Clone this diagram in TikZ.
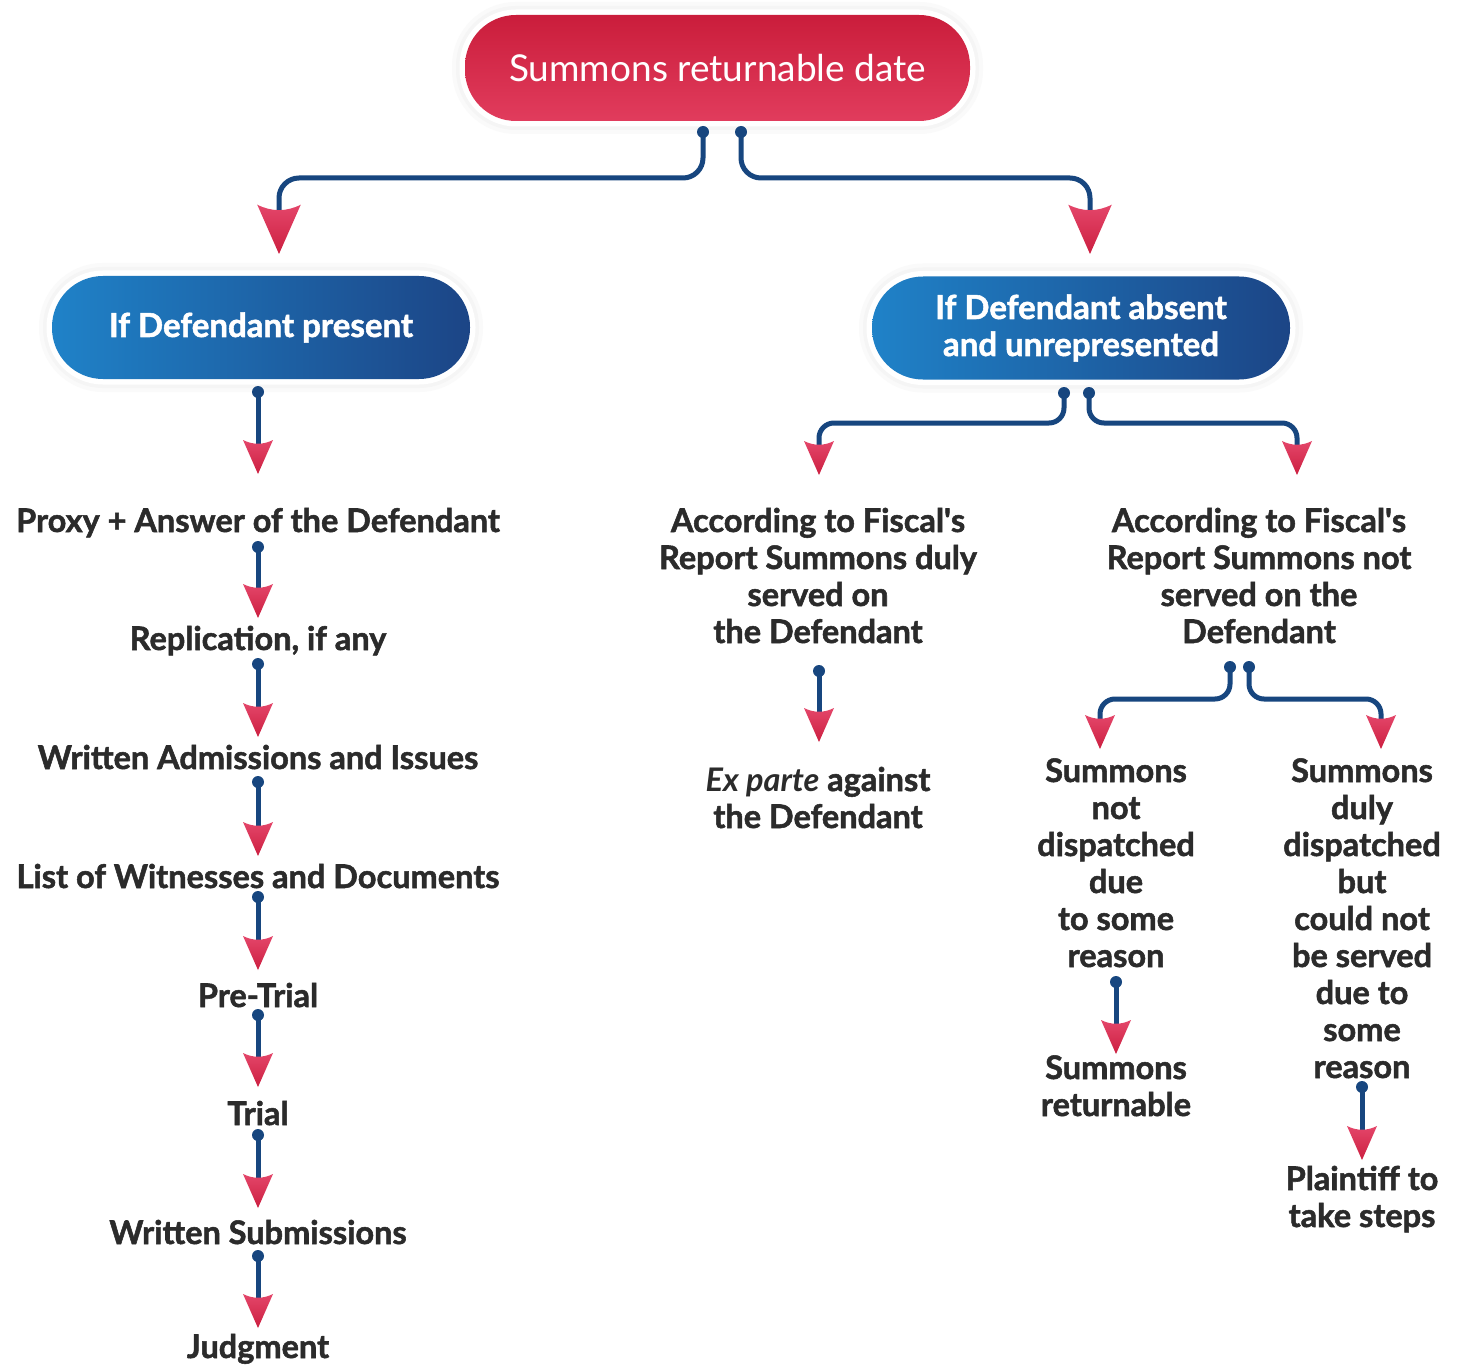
\documentclass[tikz,border=0pt]{standalone}
\usepackage{fontspec}
\setmainfont{Lato}[BoldFeatures={FakeBold=1.6}]
\usetikzlibrary{calc}
\definecolor{lineblue}{HTML}{17467F}
\definecolor{txt}{HTML}{2B2B2B}
\definecolor{redA}{HTML}{CA1D3B}
\definecolor{redB}{HTML}{E13C5D}
\definecolor{blueL}{HTML}{1F82C8}
\definecolor{blueR}{HTML}{1C4586}
\definecolor{arrA}{HTML}{E4466A}
\definecolor{arrB}{HTML}{CC1F40}
\tikzset{
  lbl/.style={font=\bfseries\fontsize{32.5}{37}\selectfont, text=txt, align=center, inner sep=0pt, anchor=base},
  conn/.style={draw=lineblue, line width=5pt, rounded corners=20pt},
  sconn/.style={draw=lineblue, line width=5pt, rounded corners=15pt},
  pillbase/.style={rounded corners=51pt, inner sep=0pt, align=center, text=white,
    preaction={draw=black!2, line width=26pt},
    preaction={draw=black!4, line width=18pt},
    preaction={draw=white, line width=11pt}},
  pillred/.style={pillbase, top color=redA, bottom color=redB, minimum width=505pt, minimum height=106pt,
    font=\fontsize{37}{40}\selectfont},
  pillblue/.style={pillbase, left color=blueL, right color=blueR, minimum width=418pt, minimum height=103pt,
    font=\bfseries\fontsize{33}{37}\selectfont},
  ahead/.pic={\shade[top color=arrA, bottom color=arrB] (0,0) -- (-15,-34) .. controls (-5,-29) and (5,-29) .. (15,-34) -- cycle;}
}
\newcommand{\dotat}[1]{\fill[lineblue] (#1) circle (6pt);}
\begin{document}
\begin{tikzpicture}[x=1pt,y=-1pt]
\useasboundingbox[fill=white] (0,0) rectangle (1457,1367);

% pills
\node[pillred] (top) at (717.5,68) {Summons returnable date};
\node[pillblue] (present) at (261,327.5) {If Defendant present};
\node[pillblue] (absent) at (1081,328) {If Defendant absent\\and unrepresented};

% left column labels
\node[lbl] (l1) at (258,532) {Proxy + Answer of the Defendant};
\node[lbl] (l2) at (258,650) {Replication, if any};
\node[lbl] (l3) at (258,769) {Written Admissions and Issues};
\node[lbl] (l4) at (258,888) {List of Witnesses and Documents};
\node[lbl] (l5) at (258,1007) {Pre-Trial};
\node[lbl] (l6) at (258,1125) {Trial};
\node[lbl] (l7) at (258,1244) {Written Submissions};
\node[lbl] (l8) at (258,1358) {Judgment};

% right labels (base anchor = last line baseline)
\node[lbl] (served) at (818,643) {According to Fiscal\textquotesingle s\\Report Summons duly\\served on\\the Defendant};
\node[lbl] (exparte) at (818,828) {\textit{Ex parte} against\\the Defendant};
\node[lbl] (notserved) at (1259,643) {According to Fiscal\textquotesingle s\\Report Summons not\\served on the\\Defendant};
\node[lbl] (notdisp) at (1116,967) {Summons\\not\\dispatched\\due\\to some\\reason};
\node[lbl] (ret) at (1116,1116) {Summons\\returnable};
\node[lbl] (duly) at (1362,1078) {Summons\\duly\\dispatched\\but\\could not\\be served\\due to\\some\\reason};
\node[lbl] (plaintiff) at (1362,1227) {Plaintiff to\\take steps};

% connector coordinates
\coordinate (ta) at (703,132);
\coordinate (tb) at (741,132);
\coordinate (tipP) at (279,254);
\coordinate (tipA) at (1090,254);
\draw[conn] (ta) -- (703,178) -- (279,178) -- (279,215);
\draw[conn] (tb) -- (741,178) -- (1090,178) -- (1090,215);
\dotat{ta}\dotat{tb}
\pic[scale=1.45] at (tipP) {ahead};
\pic[scale=1.45] at (tipA) {ahead};

% left chain
\foreach \d/\t in {392/474, 547/618, 664/737, 782/856, 897/970, 1015/1087, 1135/1208, 1256/1328}{
  \coordinate (dd) at (258,\d);
  \coordinate (tt) at (258,\t);
  \draw[sconn] (dd) -- ($(tt)+(0,-28)$);
  \dotat{dd}
  \pic at (tt) {ahead};
}

% absent branch
\coordinate (aa) at (1064,393);
\coordinate (ab) at (1089,393);
\coordinate (tipS) at (819,475);
\coordinate (tipN) at (1297,475);
\draw[sconn] (aa) -- (1064,423) -- (819,423) -- ($(tipS)+(0,-28)$);
\draw[sconn] (ab) -- (1089,423) -- (1297,423) -- ($(tipN)+(0,-28)$);
\dotat{aa}\dotat{ab}
\pic at (tipS) {ahead};
\pic at (tipN) {ahead};

% served -> ex parte
\coordinate (sa) at (819,671);
\coordinate (tipE) at (819,742);
\draw[sconn] (sa) -- ($(tipE)+(0,-28)$);
\dotat{sa}
\pic at (tipE) {ahead};

% not served branch
\coordinate (na) at (1230,667);
\coordinate (nb) at (1249,667);
\coordinate (tipD) at (1100,749);
\coordinate (tipU) at (1381,749);
\draw[sconn] (na) -- (1230,699) -- (1100,699) -- ($(tipD)+(0,-28)$);
\draw[sconn] (nb) -- (1249,699) -- (1381,699) -- ($(tipU)+(0,-28)$);
\dotat{na}\dotat{nb}
\pic at (tipD) {ahead};
\pic at (tipU) {ahead};

% not dispatched -> returnable
\coordinate (ra) at (1116,982);
\coordinate (tipR) at (1116,1054);
\draw[sconn] (ra) -- ($(tipR)+(0,-28)$);
\dotat{ra}
\pic at (tipR) {ahead};

% duly -> plaintiff
\coordinate (pa) at (1362,1087);
\coordinate (tipL) at (1362,1160);
\draw[sconn] (pa) -- ($(tipL)+(0,-28)$);
\dotat{pa}
\pic at (tipL) {ahead};
\end{tikzpicture}
\end{document}
